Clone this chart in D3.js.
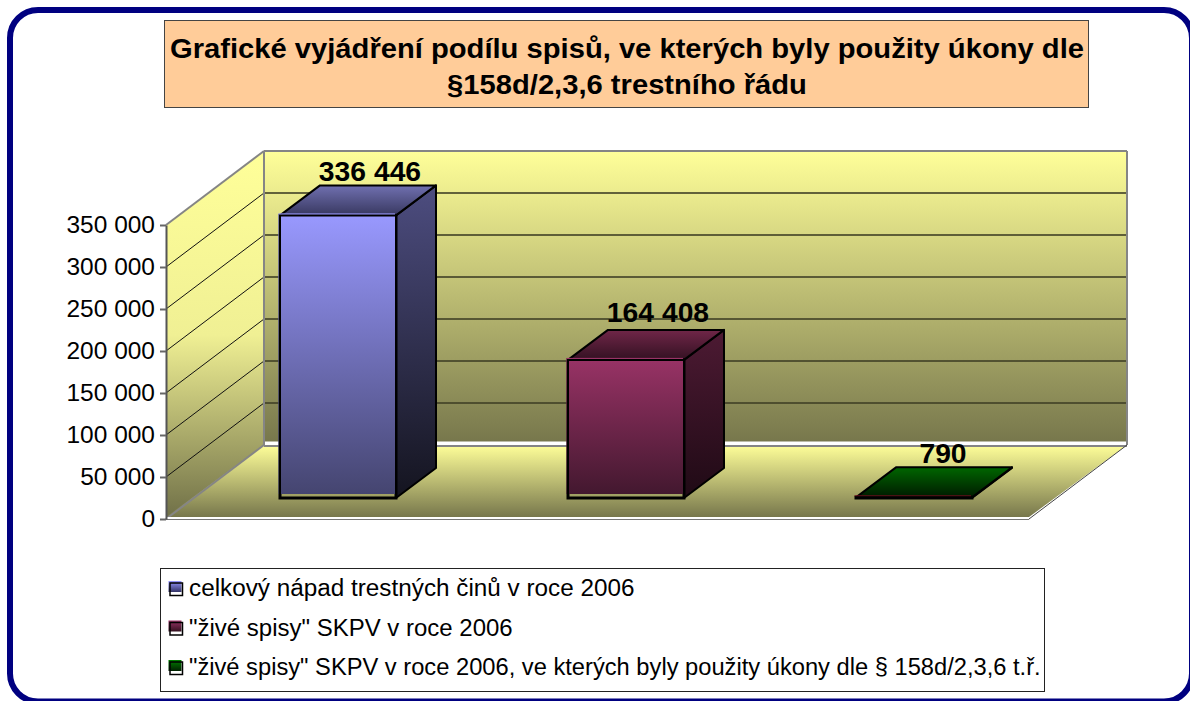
<!DOCTYPE html>
<html>
<head>
<meta charset="utf-8">
<script src="https://cdn.jsdelivr.net/npm/d3@7"></script>
<style>
  body { margin: 0; background: #fff; }
  text { font-family: "Liberation Sans", Arial, sans-serif; fill: #000; }
</style>
</head>
<body>
<div id="chart"></div>
<script>
// data
const categories = [
  "celkový nápad trestných činů v roce 2006",
  "\"živé spisy\" SKPV v roce 2006",
  "\"živé spisy\" SKPV v roce 2006, ve kterých byly použity úkony dle § 158d/2,3,6 t.ř."
];
const values = [336446, 164408, 790];
const tickValues = [0, 50000, 100000, 150000, 200000, 250000, 300000, 350000];
const titleLines = [
  "Grafické vyjádření podílu spisů, ve kterých byly použity úkony dle",
  "§158d/2,3,6 trestního řádu"
];
const frontColors = [["#9999ff", "#454570"], ["#993366", "#43182f"], ["#7a1020", "#3a0810"]];
const sideColors = [["#4d4d80", "#14141f"], ["#4d1a33", "#1f0a15"], ["#004d00", "#001a00"]];
const topColors = [["#7070b0", "#383860"], ["#702648", "#331122"], ["#006600", "#001a00"]];
const legendColors = [["#9999ff", "#333366"], ["#993366", "#33111f"], ["#008000", "#002000"]];

const width = 1190, height = 701;

const svg = d3.select("#chart").append("svg")
  .attr("width", width)
  .attr("height", height)
  .style("display", "block");

const defs = svg.append("defs");
function gradient(id, stops) {
  const g = defs.append("linearGradient").attr("id", id)
    .attr("x1", 0).attr("y1", 0).attr("x2", 0).attr("y2", 1);
  stops.forEach((c, i) => g.append("stop").attr("offset", i / (stops.length - 1)).attr("stop-color", c));
}
gradient("wall", ["#ffff99", "#77774c"]);
gradient("side", ["#ffff99", "#f0f094", "#6f6f47"]);
gradient("floor", ["#ffff99", "#77774c"]);
categories.forEach((c, i) => {
  gradient("front" + i, frontColors[i]);
  gradient("bside" + i, sideColors[i]);
  gradient("btop" + i, topColors[i]);
  gradient("key" + i, legendColors[i]);
});

// stretch text horizontally, the original is wider than Liberation at this height
function fit(sel, ratio) {
  sel.each(function (d, i) {
    const r = typeof ratio === "function" ? ratio(d, i) : ratio;
    d3.select(this)
      .attr("textLength", this.getComputedTextLength() * r)
      .attr("lengthAdjust", "spacingAndGlyphs");
  });
}

// outer frame
svg.append("rect")
  .attr("x", 10).attr("y", 10)
  .attr("width", 1182).attr("height", 691.5)
  .attr("rx", 28).attr("ry", 28)
  .attr("fill", "#fff")
  .attr("stroke", "#000080")
  .attr("stroke-width", 6);

// title box
svg.append("rect")
  .attr("x", 164.5).attr("y", 20.5)
  .attr("width", 924).attr("height", 87)
  .attr("fill", "#ffcc99")
  .attr("stroke", "#444")
  .attr("stroke-width", 1);
svg.selectAll(".title").data(titleLines).join("text")
  .attr("class", "title")
  .attr("x", 627)
  .attr("y", (d, i) => 58 + i * 36)
  .attr("text-anchor", "middle")
  .style("font-size", "27px")
  .style("font-weight", "bold")
  .text(d => d)
  .call(fit, 1.08);

// 3d geometry of the plot
const depthX = 98, depthY = 74;
const barShiftX = 28, barShiftY = 21;
const barDepthX = 40, barDepthY = 30;
const labelNudge = [[0, 0], [0, -4], [-3, 0]];
const legendStretch = [1.056, 1.043, 1.03];

const y = d3.scaleLinear().domain([0, 350000]).range([519, 225]);
const x = d3.scaleBand().domain(categories).range([166, 1030])
  .paddingInner(172 / 288).paddingOuter(86 / 288);

const x0 = x.range()[0], x1 = x.range()[1] - 1;
const yTop = y(350000), yBase = y(0);
const poly = pts => pts.map(p => p.join(",")).join(" ");

// back wall, side wall, floor
svg.append("rect")
  .attr("x", x0 + depthX).attr("y", yTop - depthY)
  .attr("width", x1 - x0).attr("height", yBase - yTop - 3)
  .attr("fill", "url(#wall)");
svg.append("polygon")
  .attr("points", poly([[x0, yTop], [x0 + depthX, yTop - depthY], [x0 + depthX, yBase - depthY], [x0, yBase]]))
  .attr("fill", "url(#side)");
svg.append("polygon")
  .attr("points", poly([[x0, yBase - 2], [x0 + depthX, yBase - depthY], [x1 + depthX, yBase - depthY], [x1, yBase - 2]]))
  .attr("fill", "url(#floor)");

// grid lines on both walls
const inner = tickValues.filter(d => d > 0 && d < 350000);
svg.selectAll(".gridSide").data(inner).join("line")
  .attr("class", "gridSide")
  .attr("x1", x0).attr("y1", d => y(d))
  .attr("x2", x0 + depthX).attr("y2", d => y(d) - depthY)
  .attr("stroke", "#111").attr("stroke-width", 1);
svg.selectAll(".gridBack").data(inner).join("line")
  .attr("class", "gridBack")
  .attr("x1", x0 + depthX).attr("y1", d => y(d) - depthY)
  .attr("x2", x1 + depthX).attr("y2", d => y(d) - depthY)
  .attr("stroke", "#404025").attr("stroke-opacity", 0.8).attr("stroke-width", 2);

// wall edges
const edges = [
  [x0, yTop, x0 + depthX, yTop - depthY],
  [x0 + depthX, yTop - depthY, x1 + depthX, yTop - depthY],
  [x0 + depthX, yTop - depthY, x0 + depthX, yBase - depthY],
  [x1 + depthX, yTop - depthY, x1 + depthX, yBase - depthY],
  [x0 + depthX, yBase - depthY + 1, x1 + depthX, yBase - depthY + 1],
  [x0, yBase, x0 + depthX, yBase - depthY]
];
svg.selectAll(".edge").data(edges).join("line")
  .attr("class", "edge")
  .attr("x1", d => d[0]).attr("y1", d => d[1])
  .attr("x2", d => d[2]).attr("y2", d => d[3])
  .attr("stroke", "#858585").attr("stroke-width", 2);
// white strip above the floor, floor front and right edges
svg.append("line")
  .attr("x1", x0 + depthX + 1).attr("x2", x1 + depthX - 1)
  .attr("y1", yBase - depthY - 2).attr("y2", yBase - depthY - 2)
  .attr("stroke", "#fff").attr("stroke-width", 3);
svg.append("line")
  .attr("x1", x0).attr("x2", x1).attr("y1", yBase - 1).attr("y2", yBase - 1)
  .attr("stroke", "#fff").attr("stroke-width", 2);
svg.append("line")
  .attr("x1", x0).attr("x2", x1).attr("y1", yBase + 0.5).attr("y2", yBase + 0.5)
  .attr("stroke", "#777").attr("stroke-width", 1);
svg.append("line")
  .attr("x1", x1).attr("y1", yBase)
  .attr("x2", x1 + depthX).attr("y2", yBase - depthY)
  .attr("stroke", "#444").attr("stroke-width", 1);

// axis
const fmt = d3.formatLocale({ decimal: ",", thousands: " ", grouping: [3], currency: ["", ""] }).format(",d");
const axis = svg.append("g")
  .attr("transform", `translate(${x0},0)`)
  .call(d3.axisLeft(y).tickValues(tickValues).tickFormat(fmt).tickSize(6).tickSizeOuter(0).tickPadding(5));
axis.select(".domain").attr("stroke", "#555").attr("stroke-width", 2);
axis.selectAll(".tick line").attr("stroke", "#666").attr("stroke-width", 2);
axis.selectAll("text")
  .style("font-size", "24px")
  .style("font-family", "'Liberation Sans', Arial, sans-serif")
  .attr("fill", "#000")
  .call(fit, 1.02);

// bars
const bars = svg.selectAll(".bar").data(values).join("g").attr("class", "bar");
const bx = (d, i) => x(categories[i]) + barShiftX;
const bw = x.bandwidth();
const by = d => y(d) - barShiftY;
const bb = yBase - barShiftY;

// side face
bars.append("polygon")
  .attr("points", (d, i) => poly([
    [bx(d, i) + bw, by(d)],
    [bx(d, i) + bw + barDepthX, by(d) - barDepthY],
    [bx(d, i) + bw + barDepthX, bb - barDepthY],
    [bx(d, i) + bw, bb]
  ]))
  .attr("fill", (d, i) => `url(#bside${i})`)
  .attr("stroke", "#000").attr("stroke-width", 2).attr("stroke-linejoin", "round");
// top face
bars.append("polygon")
  .attr("points", (d, i) => poly([
    [bx(d, i), by(d)],
    [bx(d, i) + barDepthX, by(d) - barDepthY],
    [bx(d, i) + bw + barDepthX, by(d) - barDepthY],
    [bx(d, i) + bw, by(d)]
  ]))
  .attr("fill", (d, i) => `url(#btop${i})`)
  .attr("stroke", "#000").attr("stroke-width", 2).attr("stroke-linejoin", "round");
// outline first, then the front fill which sits a bit up and left of it like in the original
bars.append("rect")
  .attr("x", (d, i) => bx(d, i))
  .attr("y", d => by(d))
  .attr("width", bw)
  .attr("height", d => bb - by(d))
  .attr("fill", "none")
  .attr("stroke", "#000").attr("stroke-width", 3);
bars.append("rect")
  .attr("x", (d, i) => bx(d, i) - 1.5)
  .attr("y", d => by(d) - 2)
  .attr("width", bw + 0.5)
  .attr("height", d => Math.max(1, bb - by(d) - 2))
  .attr("fill", (d, i) => `url(#front${i})`);
// outline again on the tall bars, thin line inside the fill
bars.filter(d => d > 10000).append("path")
  .attr("d", (d, i) => `M${bx(d, i)},${bb}V${by(d)}H${bx(d, i) + bw}`)
  .attr("fill", "none")
  .attr("stroke", "#000").attr("stroke-width", 2);

// value labels
bars.append("text")
  .attr("x", (d, i) => bx(d, i) + bw / 2 + 32 + labelNudge[i][0])
  .attr("y", (d, i) => by(d) - barDepthY - 4 + labelNudge[i][1])
  .attr("text-anchor", "middle")
  .style("font-size", "28px")
  .style("font-weight", "bold")
  .text(d => fmt(d))
  .call(fit, 1.01);

// legend
const legendY = d3.scalePoint().domain(categories).range([581, 660]);
svg.append("rect")
  .attr("x", 160.5).attr("y", 568.5)
  .attr("width", 884).attr("height", 123)
  .attr("fill", "#fff")
  .attr("stroke", "#222").attr("stroke-width", 1);
const legend = svg.selectAll(".key").data(categories).join("g").attr("class", "key")
  .attr("transform", d => `translate(168,${legendY(d)})`);
legend.append("rect")
  .attr("x", 0.5).attr("y", 0)
  .attr("width", 13).attr("height", 11)
  .attr("fill", (d, i) => `url(#key${i})`);
legend.append("rect")
  .attr("x", 2).attr("y", 2)
  .attr("width", 12.5).attr("height", 12.5)
  .attr("fill", "none")
  .attr("stroke", "#000").attr("stroke-width", 1.5);
legend.append("text")
  .attr("x", 21)
  .attr("y", 15)
  .style("font-size", "23px")
  .text(d => d)
  .call(fit, (d, i) => legendStretch[i]);
</script>
</body>
</html>
